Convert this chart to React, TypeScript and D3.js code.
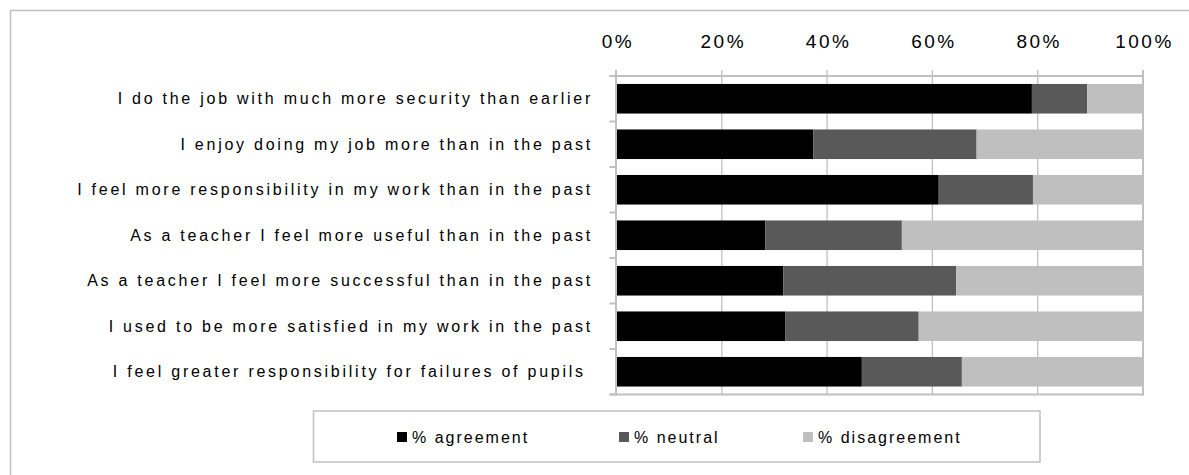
import React from "react";
import * as d3 from "d3";

const categories = [
  "I do the job with much more security than earlier",
  "I enjoy doing my job more than in the past",
  "I feel more responsibility in my work than in the past",
  "As a teacher I feel more useful than in the past",
  "As a teacher I feel more successful than in the past",
  "I used to be more satisfied in my work in the past",
  "I feel greater responsibility for failures of pupils ",
];
const agreement = [78.9, 37.4, 61.2, 28.3, 31.7, 32.1, 46.6];
const neutral = [10.5, 31.0, 17.9, 25.9, 32.8, 25.3, 19.0];
const disagreement = [10.6, 31.6, 20.9, 45.8, 35.5, 42.6, 34.4];
const seriesNames = ["% agreement", "% neutral", "% disagreement"];
const seriesColors = ["#000000", "#595959", "#bfbfbf"];
const tickValues = [0, 20, 40, 60, 80, 100];

const W = 1189;
const H = 475;
const FONT = "'Liberation Sans', Arial, sans-serif";
const GRID = "#c0c0c0";

export default function App() {
  const rows = categories.map((c, i) => ({
    cat: c,
    a: agreement[i],
    n: neutral[i],
    d: disagreement[i],
  }));
  const stack = d3.stack<any>().keys(["a", "n", "d"]);
  const layers = stack(rows);

  const x = d3.scaleLinear().domain([0, 100]).range([616.5, 1143]);
  const y = d3
    .scaleBand()
    .domain(categories)
    .range([76, 394.5])
    .paddingInner(0.35)
    .paddingOuter(0.175);
  const step = y.step();
  const [y0, y1] = y.range();
  const [x0, x1] = x.range();

  const legendX = [397, 619, 803];

  return (
    <svg
      width={W}
      height={H}
      style={{ position: "absolute", left: 0, top: 0, background: "#fff" }}
      fontFamily={FONT}
    >
      <rect x={10.5} y={10.5} width={1300} height={600} fill="#fff" stroke={GRID} strokeWidth={1.5} />

      {/* gridlines */}
      {tickValues.slice(1, -1).map((t) => (
        <line key={t} x1={x(t)} x2={x(t)} y1={y0 - 6} y2={y1} stroke={GRID} strokeWidth={1.3} />
      ))}

      {/* bars */}
      {layers.map((layer, li) => (
        <g key={li} fill={seriesColors[li]}>
          {layer.map((s, i) => (
            <rect
              key={i}
              x={x(s[0])}
              y={y(categories[i])}
              width={x(s[1]) - x(s[0])}
              height={y.bandwidth()}
            />
          ))}
        </g>
      ))}

      {/* plot frame */}
      <line x1={x0 - 7} x2={x1 + 1} y1={y0} y2={y0} stroke={GRID} strokeWidth={2} />
      <line x1={x0 - 7} x2={x1 + 1} y1={y1} y2={y1} stroke={GRID} strokeWidth={2} />
      <line x1={x0 - 0.5} x2={x0 - 0.5} y1={y0 - 6} y2={y1 + 1} stroke={GRID} strokeWidth={2} />
      <line x1={x1} x2={x1} y1={y0 - 6} y2={y1 + 1} stroke={GRID} strokeWidth={2} />
      {d3.range(categories.length + 1).map((k) => (
        <line key={k} x1={x0 - 7} x2={x0} y1={y0 + k * step} y2={y0 + k * step} stroke={GRID} strokeWidth={2} />
      ))}

      {/* tick labels */}
      {tickValues.map((t) => (
        <text
          key={t}
          x={x(t) + 1.5}
          y={47.5}
          textAnchor="middle"
          fontSize={19}
          letterSpacing={2.5}
          fill="#000"
        >
          {t + "%"}
        </text>
      ))}

      {/* category labels */}
      {categories.map((c) => (
        <text
          key={c}
          x={593}
          y={(y(c) as number) + y.bandwidth() / 2}
          dy="0.35em"
          textAnchor="end"
          fontSize={16}
          letterSpacing={2.75}
          fill="#000"
          style={{ whiteSpace: "pre" }}
        >
          {c}
        </text>
      ))}

      {/* legend */}
      <rect x={313.5} y={411} width={726.5} height={51} fill="#fff" stroke={GRID} strokeWidth={1.5} />
      {seriesNames.map((n, i) => (
        <g key={n}>
          <rect x={legendX[i]} y={432} width={10} height={10} fill={seriesColors[i]} />
          <text x={legendX[i] + 15} y={437} dy="0.35em" fontSize={16} letterSpacing={2} fill="#000">
            {n}
          </text>
        </g>
      ))}
    </svg>
  );
}
